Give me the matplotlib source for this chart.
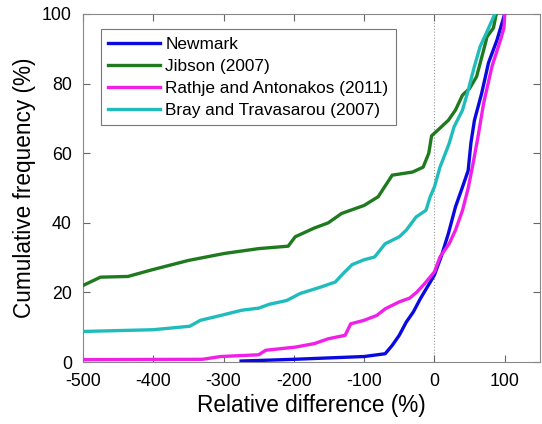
import matplotlib
matplotlib.use("Agg")
import matplotlib.pyplot as plt

plt.rcParams['font.family'] = ['Liberation Sans', 'DejaVu Sans']
plt.rcParams['axes.unicode_minus'] = False

# Cumulative frequency curves (relative difference %, cumulative %)
newmark_x = [-275, -200, -150, -100, -70, -60, -50, -40, -30, -20, -10, 0, 10, 20, 30, 40,
             48, 52, 57, 67, 77, 89, 100]
newmark_y = [0.3, 0.8, 1.2, 1.6, 2.4, 4.8, 7.7, 11.5, 14.4, 18.2, 21.6, 25.0, 30.5, 37.0,
             44.6, 50.3, 55.0, 63.0, 69.5, 77.0, 86.0, 92.5, 100]

jibson_x = [-500, -475, -436, -402, -350, -299, -250, -208, -198, -171, -151, -132, -100,
            -80, -60, -31, -16, -8, -4, 10, 20, 30, 40, 50, 60, 70, 75, 84, 88]
jibson_y = [22.0, 24.4, 24.6, 26.5, 29.2, 31.2, 32.6, 33.3, 36.0, 38.5, 40.0, 42.7, 45.0,
            47.5, 53.7, 54.6, 56.0, 60.0, 65.0, 67.6, 69.5, 72.4, 76.7, 78.6, 82.0, 89.6,
            93.5, 96.0, 100]

rathje_x = [-500, -330, -304, -250, -240, -198, -171, -151, -127, -119, -100, -82, -70, -50,
            -35, -25, -14, 0, 8, 21, 30, 40, 48, 55, 62, 70, 82, 94, 99, 100]
rathje_y = [0.7, 0.8, 1.6, 2.1, 3.4, 4.3, 5.3, 6.7, 7.7, 11.0, 12.0, 13.4, 15.3, 17.3,
            18.4, 20.1, 22.5, 25.9, 30.2, 34.0, 37.9, 43.6, 49.9, 57.0, 64.7, 74.3, 85.0,
            92.5, 96.0, 100]

bray_x = [-500, -400, -348, -333, -304, -274, -250, -235, -210, -191, -161, -141, -130,
          -117, -100, -85, -70, -50, -40, -26, -12, -6, 0, 8, 21, 28, 40, 48, 57, 65, 75, 86]
bray_y = [8.8, 9.3, 10.3, 12.0, 13.4, 14.9, 15.5, 16.6, 17.7, 19.7, 21.6, 23.0, 25.4,
          28.0, 29.4, 30.2, 34.0, 36.0, 37.9, 41.7, 43.6, 47.5, 50.3, 56.0, 62.8, 67.6,
          72.4, 78.0, 85.0, 90.6, 95.0, 100]

series = [
    ("Newmark", newmark_x, newmark_y, "#0a0ae0"),
    ("Jibson (2007)", jibson_x, jibson_y, "#1f7a1f"),
    ("Rathje and Antonakos (2011)", rathje_x, rathje_y, "#f020e8"),
    ("Bray and Travasarou (2007)", bray_x, bray_y, "#20bcbc"),
]

fig = plt.figure(figsize=(5.42, 4.24), dpi=100)
ax = fig.add_axes([0.153, 0.146, 0.843, 0.821])

ax.axvline(0, color="#999999", lw=0.8, ls=":", zorder=1)
for label, xs, ys, c in series:
    ax.plot(xs, ys, color=c, lw=2.4, label=label, zorder=3)

ax.set_xlim(-500, 150)
ax.set_ylim(0, 100)
ax.set_xticks([-500, -400, -300, -200, -100, 0, 100])
ax.set_yticks([0, 20, 40, 60, 80, 100])
ax.tick_params(direction="in", top=True, right=True, labelsize=12.8, length=5,
               color="#666666")
ax.tick_params(axis="x", pad=8)
ax.tick_params(axis="y", pad=8)
for s in ax.spines.values():
    s.set_color("#888888")

ax.set_xlabel("Relative difference (%)", fontsize=16.3, labelpad=3)
ax.set_ylabel("Cumulative frequency (%)", fontsize=16.3, labelpad=4)

leg = ax.legend(loc="upper left", bbox_to_anchor=(0.039, 0.957), borderaxespad=0,
                fontsize=12.4, handlelength=3.0, handletextpad=0.3, labelspacing=0.4,
                frameon=True, fancybox=False, borderpad=0.45)
leg.get_frame().set_edgecolor("#555555")
leg.get_frame().set_linewidth(0.8)

fig.savefig("out.png", dpi=100)
